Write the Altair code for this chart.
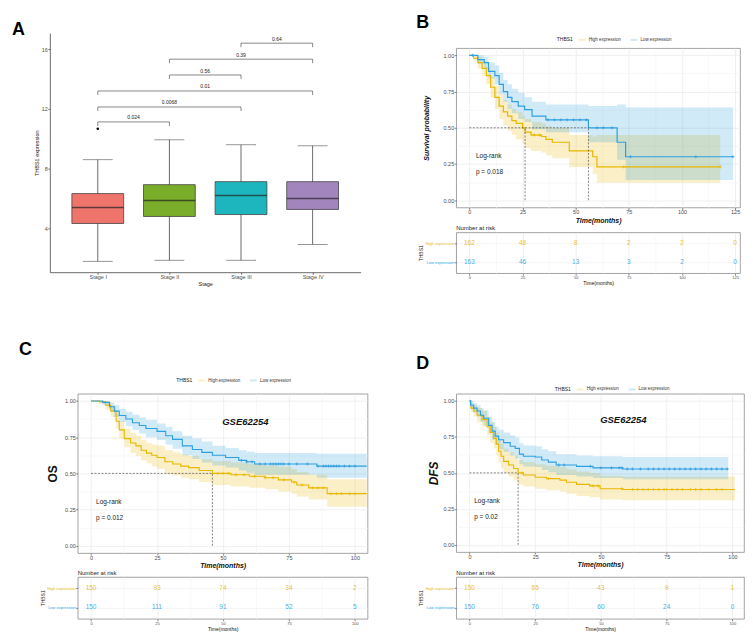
import json
import pandas as pd
import altair as alt

FONT = "Liberation Sans"
YEL = "#E7B800"
BLU = "#2E9FDF"
GROUPS = ["High expression", "Low expression"]
LAB = "#4D4D4D"
FRAME = "#8C8C8C"

# ---------------- Panel A : box plot ----------------
stages = ["Stage I", "Stage II", "Stage III", "Stage IV"]
stage_pos = [1, 2, 3, 4]
box_low = [1.8, 1.87, 1.87, 2.93]
box_q1 = [4.33, 4.8, 4.93, 5.27]
box_med = [5.4, 5.87, 6.2, 6.0]
box_q3 = [6.33, 6.93, 7.13, 7.13]
box_high = [8.6, 9.93, 9.6, 9.53]
box_colors = ["#EE746C", "#7AAD2A", "#1DB6BE", "#A385BE"]
outlier_pos = [1]
outlier_val = [10.67]
cmp_start = [1, 1, 1, 2, 2, 3]
cmp_end = [2, 3, 4, 3, 4, 4]
cmp_y = [11.13, 12.13, 13.2, 14.27, 15.33, 16.4]
cmp_p = ["0.024", "0.0068", "0.01", "0.56", "0.39", "0.64"]

# ---------------- Panel B : KM (TCGA) ----------------
b_high_t = [0, 2, 4, 6, 8, 10, 12, 14, 16, 18, 20, 22, 25, 26.2, 29, 34, 36, 39, 47, 58, 60, 118]
b_high_s = [1.0, 0.98, 0.95, 0.91, 0.86, 0.78, 0.71, 0.65, 0.61, 0.58, 0.55, 0.53, 0.50, 0.47, 0.45, 0.44, 0.42, 0.40, 0.34, 0.30, 0.23, 0.23]
b_high_lo = [1.0, 0.96, 0.91, 0.86, 0.80, 0.71, 0.63, 0.56, 0.52, 0.48, 0.45, 0.42, 0.39, 0.36, 0.34, 0.33, 0.31, 0.29, 0.23, 0.18, 0.12, 0.12]
b_high_hi = [1.0, 1.0, 0.99, 0.96, 0.92, 0.85, 0.79, 0.73, 0.69, 0.66, 0.63, 0.61, 0.58, 0.56, 0.54, 0.53, 0.51, 0.50, 0.45, 0.44, 0.45, 0.45]
b_low_t = [0, 4, 7, 9, 12, 14, 16, 18, 20, 23, 26, 29.5, 36, 56, 69.5, 73.5, 124]
b_low_s = [1.0, 0.97, 0.95, 0.89, 0.86, 0.80, 0.75, 0.71, 0.68, 0.65, 0.625, 0.58, 0.555, 0.50, 0.40, 0.30, 0.30]
b_low_lo = [1.0, 0.94, 0.91, 0.84, 0.80, 0.73, 0.68, 0.63, 0.60, 0.56, 0.54, 0.49, 0.47, 0.40, 0.28, 0.14, 0.14]
b_low_hi = [1.0, 1.0, 0.99, 0.95, 0.93, 0.88, 0.83, 0.80, 0.77, 0.74, 0.71, 0.68, 0.66, 0.65, 0.66, 0.64, 0.64]
b_cens_high = [30.5, 33, 72.6, 118]
b_cens_low = [1.5, 37, 40, 43, 46, 49, 52, 55, 60, 63, 67, 75.8, 106.5, 124]
b_med = [26.2, 56.0]
b_p = "p = 0.018"
b_risk_t = [0, 25, 50, 75, 100, 125]
b_risk_high = [162, 48, 8, 2, 2, 0]
b_risk_low = [163, 46, 13, 3, 2, 0]

# ---------------- Panel C : OS GSE62254 ----------------
c_high_t = [0, 3, 5.5, 7.5, 9.5, 10.7, 12.6, 15, 17, 19, 21, 23, 25, 28, 31, 34, 37, 41, 46, 53, 60, 66, 71, 76, 78, 82.5, 89.5, 104.5]
c_high_s = [1.0, 0.995, 0.97, 0.93, 0.86, 0.80, 0.74, 0.71, 0.69, 0.66, 0.64, 0.625, 0.61, 0.58, 0.565, 0.55, 0.54, 0.52, 0.50, 0.49, 0.48, 0.47, 0.455, 0.44, 0.42, 0.40, 0.36, 0.36]
c_high_lo = [1.0, 0.98, 0.94, 0.89, 0.81, 0.74, 0.68, 0.64, 0.62, 0.59, 0.57, 0.55, 0.53, 0.50, 0.485, 0.47, 0.46, 0.44, 0.42, 0.41, 0.40, 0.39, 0.375, 0.36, 0.34, 0.32, 0.27, 0.27]
c_high_hi = [1.0, 1.0, 0.995, 0.97, 0.91, 0.86, 0.81, 0.78, 0.76, 0.73, 0.71, 0.70, 0.69, 0.66, 0.645, 0.63, 0.62, 0.60, 0.585, 0.575, 0.565, 0.555, 0.545, 0.53, 0.51, 0.49, 0.46, 0.46]
c_low_t = [0, 4.4, 7, 8.8, 10.7, 13.2, 15.7, 18.3, 20.8, 25, 28.3, 30.9, 34.6, 38.4, 42, 46, 51, 56, 59, 62, 85.6, 104.5]
c_low_s = [1.0, 0.99, 0.96, 0.93, 0.90, 0.875, 0.85, 0.83, 0.81, 0.79, 0.76, 0.735, 0.69, 0.665, 0.645, 0.625, 0.61, 0.59, 0.58, 0.565, 0.55, 0.55]
c_low_lo = [1.0, 0.97, 0.93, 0.89, 0.855, 0.825, 0.80, 0.775, 0.75, 0.73, 0.70, 0.67, 0.625, 0.60, 0.575, 0.555, 0.54, 0.52, 0.505, 0.49, 0.47, 0.47]
c_low_hi = [1.0, 1.0, 0.99, 0.97, 0.945, 0.925, 0.905, 0.885, 0.87, 0.845, 0.82, 0.79, 0.76, 0.74, 0.72, 0.69, 0.675, 0.66, 0.65, 0.64, 0.635, 0.635]
c_cens_high = [48, 50, 52, 55, 58, 62, 66, 69, 73, 77, 80, 84, 86, 88, 91, 93, 95, 98, 100]
c_cens_low = [57, 59, 61, 64, 66, 68, 69, 70, 71, 72, 73, 75, 78, 82, 86, 88, 89, 90, 91, 92, 93, 94, 96, 98, 100]
c_med = [46.0]
c_p = "p = 0.012"
c_risk_t = [0, 25, 50, 75, 100]
c_risk_high = [150, 93, 74, 34, 2]
c_risk_low = [150, 111, 91, 52, 5]

# ---------------- Panel D : DFS GSE62254 ----------------
d_high_t = [0, 0.6, 1.6, 2.9, 4.8, 6.7, 7.9, 9.2, 10.2, 11.1, 12, 13, 14.9, 16.8, 18.5, 20.5, 25, 29.3, 34.4, 36.9, 40.7, 45.7, 49.7, 58.3, 100.9]
d_high_s = [1.0, 0.95, 0.93, 0.90, 0.87, 0.82, 0.78, 0.74, 0.70, 0.65, 0.615, 0.58, 0.555, 0.53, 0.50, 0.485, 0.47, 0.46, 0.45, 0.435, 0.42, 0.41, 0.39, 0.385, 0.385]
d_high_lo = [1.0, 0.92, 0.89, 0.85, 0.82, 0.76, 0.71, 0.67, 0.62, 0.57, 0.535, 0.50, 0.475, 0.45, 0.42, 0.405, 0.39, 0.38, 0.37, 0.355, 0.34, 0.33, 0.315, 0.31, 0.31]
d_high_hi = [1.0, 0.985, 0.97, 0.95, 0.93, 0.89, 0.85, 0.82, 0.78, 0.74, 0.70, 0.67, 0.645, 0.62, 0.59, 0.575, 0.56, 0.55, 0.54, 0.525, 0.51, 0.50, 0.48, 0.475, 0.47]
d_low_t = [0, 0.4, 1.6, 2.9, 4.2, 5.4, 7.3, 8.6, 9.8, 11.1, 13, 15.5, 17.4, 19, 20.5, 25, 27.5, 30, 33, 40.7, 47, 58.3, 98.4]
d_low_s = [1.0, 0.97, 0.95, 0.93, 0.90, 0.88, 0.83, 0.79, 0.755, 0.73, 0.71, 0.685, 0.67, 0.63, 0.615, 0.61, 0.59, 0.575, 0.555, 0.545, 0.535, 0.527, 0.527]
d_low_lo = [1.0, 0.94, 0.92, 0.89, 0.855, 0.83, 0.775, 0.73, 0.695, 0.665, 0.645, 0.62, 0.60, 0.56, 0.545, 0.54, 0.52, 0.505, 0.485, 0.475, 0.465, 0.455, 0.455]
d_low_hi = [1.0, 1.0, 0.985, 0.97, 0.95, 0.935, 0.89, 0.855, 0.82, 0.80, 0.78, 0.76, 0.745, 0.705, 0.69, 0.685, 0.665, 0.65, 0.63, 0.62, 0.615, 0.61, 0.61]
d_cens_high = [20, 30, 47, 49, 58, 62, 64, 66, 68, 70, 72, 74, 75, 77, 79, 81, 84, 86, 88, 91, 94, 96]
d_cens_low = [34, 36, 46, 50, 54, 57, 58, 60, 62, 65, 68, 70, 72, 74, 76, 78, 80, 82, 84, 86, 88, 90, 92, 94, 96, 98]
d_med = [18.5]
d_p = "p = 0.02"
d_risk_t = [0, 25, 50, 75, 100]
d_risk_high = [150, 65, 43, 9, 1]
d_risk_low = [150, 76, 60, 24, 0]


def step_at(ts, ss, x):
    v = ss[0]
    for t, s in zip(ts, ss):
        if t <= x:
            v = s
    return v


GCOL = alt.Scale(domain=GROUPS, range=[YEL, BLU])
CROSS = "M -1 0 L 1 0 M 0 -1 L 0 1"


def minor_vals(step, dom):
    vals = []
    v = 0.0
    while v <= dom[1]:
        vals.append(v)
        v += step / 2
    return vals


def xaxis_km(step, dom, title, tsize, tweight, tstyle, lsize):
    test = f"datum.value % {step} !== 0"
    return alt.Axis(
        values=minor_vals(step, dom),
        labelExpr=f"datum.value % {step} === 0 ? format(datum.value, 'd') : ''",
        title=title, titleFontSize=tsize, titleFontWeight=tweight, titleFontStyle=tstyle,
        titleColor="#111", titlePadding=1, labelFontSize=lsize, labelColor=LAB,
        labelPadding=0.5, tickSize=2, tickColor="#333", tickWidth=0.6, domain=False,
        grid=True, gridWidth=0.6,
        gridColor={"condition": {"test": test, "value": "#F4F4F4"}, "value": "#E6E6E6"},
        tickOpacity={"condition": {"test": test, "value": 0}, "value": 1},
    )


def km_panel(w, h, xdom, xstep, curves, cens, meds, p_text, lr_x,
             ytitle, ysize, ystyle, ypad, legx, legy, gse=None, lw=1.1):
    rows = []
    for g, (t, s, lo, hi) in zip(GROUPS, curves):
        for i in range(len(t)):
            rows.append({"group": g, "t": t[i], "s": s[i], "lo": lo[i], "hi": hi[i]})
    df = pd.DataFrame(rows)
    crows = []
    for g, (t, s, lo, hi), ct in zip(GROUPS, curves, cens):
        for c in ct:
            crows.append({"group": g, "t": c, "s": step_at(t, s, c)})
    cdf = pd.DataFrame(crows)

    xsc = alt.Scale(domain=xdom, nice=False, zero=False)
    ysc = alt.Scale(domain=[-0.05, 1.05], nice=False, zero=False)
    xax = xaxis_km(xstep, xdom, "Time(months)", 7, "bold", "italic", 5.5)
    ytest = "(datum.value * 4) % 1 !== 0"
    yax = alt.Axis(
        values=[i * 0.125 for i in range(9)],
        labelExpr="(datum.value * 4) % 1 === 0 ? format(datum.value, '.2f') : ''",
        title=ytitle, titleFontSize=ysize, titleFontWeight="bold", titleFontStyle=ystyle,
        titleColor="#111", titlePadding=ypad, labelFontSize=5.5, labelColor=LAB,
        labelPadding=0.5, tickSize=2, tickColor="#333", tickWidth=0.6, domain=False,
        grid=True, gridWidth=0.6,
        gridColor={"condition": {"test": ytest, "value": "#F4F4F4"}, "value": "#E6E6E6"},
        tickOpacity={"condition": {"test": ytest, "value": 0}, "value": 1},
    )

    def X(f):
        return alt.X(f, scale=xsc, axis=xax)

    def Y(f):
        return alt.Y(f, scale=ysc, axis=yax)

    leg = alt.Legend(
        orient="none", legendX=legx, legendY=legy, direction="horizontal",
        title="THBS1", titleOrient="left", titleFontSize=5, titleFontWeight="normal",
        titleColor="#222", titlePadding=4, labelFontSize=4.5, labelColor="#333",
        symbolType="stroke", symbolStrokeWidth=2, symbolSize=45, columnPadding=5,
        labelOffset=2)
    col = alt.Color("group:N", scale=GCOL, legend=leg)

    band = alt.Chart(df).mark_area(interpolate="step-after", opacity=0.22).encode(
        x=X("t:Q"), y=Y("lo:Q"), y2="hi:Q", color=col)
    line = alt.Chart(df).mark_line(interpolate="step-after", strokeWidth=lw).encode(
        x=X("t:Q"), y=Y("s:Q"), color=col)
    cpts = alt.Chart(cdf).mark_point(shape=CROSS, filled=False, size=10, strokeWidth=0.7,
                                     opacity=1).encode(x=X("t:Q"), y=Y("s:Q"), color=col)
    med_h = alt.Chart(pd.DataFrame({"t": [0.0], "t2": [max(meds)], "s": [0.5]})).mark_rule(
        color="#333", strokeDash=[2, 1.5], strokeWidth=0.6).encode(
        x=X("t:Q"), x2="t2:Q", y=Y("s:Q"))
    med_v = alt.Chart(pd.DataFrame({"t": meds, "s": [0.0] * len(meds),
                                    "s2": [0.5] * len(meds)})).mark_rule(
        color="#333", strokeDash=[2, 1.5], strokeWidth=0.6).encode(
        x=X("t:Q"), y=Y("s:Q"), y2="s2:Q")
    lr = alt.Chart(pd.DataFrame({"t": [lr_x, lr_x], "s": [0.305, 0.195],
                                 "label": ["Log-rank", p_text]})).mark_text(
        align="left", fontSize=6.5, color="#222").encode(
        x=X("t:Q"), y=Y("s:Q"), text="label:N")
    layers = [band, line, cpts, med_h, med_v, lr]
    if gse is not None:
        layers.append(alt.Chart(pd.DataFrame({"t": [gse[0]], "s": [gse[1]],
                                              "label": [gse[2]]})).mark_text(
            fontSize=9.5, fontWeight="bold", fontStyle="italic", color="#111").encode(
            x=X("t:Q"), y=Y("s:Q"), text="label:N"))
    return alt.layer(*layers).properties(
        width=w, height=h, view=alt.ViewBackground(stroke=FRAME, strokeWidth=0.8))


def risk_panel(w, h, xdom, xstep, times, nh, nl, fs=6.5):
    rows = []
    for g, ns in zip(GROUPS, [nh, nl]):
        for t, n in zip(times, ns):
            rows.append({"t": t, "group": g, "n": str(n)})
    df = pd.DataFrame(rows)
    xsc = alt.Scale(domain=xdom, nice=False, zero=False)
    xax = xaxis_km(xstep, xdom, "Time(months)", 5, "normal", "normal", 4)
    yax = alt.Axis(title="THBS1", titleFontSize=5, titleFontWeight="normal", titleColor="#222",
                   titlePadding=1.5, labelFontSize=4, labelPadding=0.5, tickSize=2,
                   tickColor="#333", tickWidth=0.6, domain=False, grid=True,
                   gridColor="#EDEDED", gridWidth=0.6,
                   labelColor={"condition": {"test": f"datum.value === '{GROUPS[0]}'",
                                             "value": YEL}, "value": BLU})
    return alt.Chart(df).mark_text(fontSize=fs, opacity=0.85).encode(
        x=alt.X("t:Q", scale=xsc, axis=xax),
        y=alt.Y("group:N", scale=alt.Scale(type="point", domain=GROUPS, padding=0.6), axis=yax),
        text="n:N",
        color=alt.Color("group:N", scale=GCOL, legend=None),
    ).properties(
        width=w, height=h,
        title=alt.TitleParams("Number at risk", anchor="start", frame="group", orient="top",
                              fontSize=6, fontWeight="normal", color="#222",
                              baseline="alphabetic", offset=0, dy=4),
        view=alt.ViewBackground(stroke=FRAME, strokeWidth=0.8))


# ---------------- Panel A chart ----------------
A_W, A_H = 312, 240        # drawn plot size
A_FW, A_FH = 28, 15        # footprint used by the grid layout
dfA = pd.DataFrame({"pos": stage_pos, "stage": stages, "low": box_low, "q1": box_q1,
                    "med": box_med, "q3": box_q3, "high": box_high})
xA = alt.Scale(domain=[0.4, 4.6], range=[0, A_W], nice=False, zero=False)
yA = alt.Scale(domain=[1.07, 17.07], range=[A_H, 0], nice=False, zero=False)
axA_x = alt.Axis(values=stage_pos, labelExpr=json.dumps(stages) + "[datum.value - 1]",
                 title="Stage", titleFontSize=5.5, titleFontWeight="normal", titleColor="#222",
                 titlePadding=1, labelFontSize=5.5, labelColor=LAB, labelPadding=0.5,
                 tickSize=2, tickColor="#333", tickWidth=0.7, domainColor="#444",
                 domainWidth=0.8, grid=False, offset=A_H - A_FH)
axA_y = alt.Axis(values=[4, 8, 12, 16], title="THBS1 expression", titleFontSize=5.5,
                 titleFontWeight="normal", titleColor="#222", titlePadding=2,
                 labelFontSize=5.5, labelColor=LAB, labelPadding=0.5, tickSize=2,
                 tickColor="#333", tickWidth=0.7, domainColor="#444", domainWidth=0.8,
                 grid=False)


def XA(f):
    return alt.X(f, scale=xA, axis=axA_x)


def YA(f):
    return alt.Y(f, scale=yA, axis=axA_y)


baseA = alt.Chart(dfA)
whisk = baseA.mark_rule(color="#444", strokeWidth=0.8).encode(x=XA("pos:Q"), y=YA("low:Q"), y2="high:Q")
cap_lo = baseA.mark_tick(orient="horizontal", size=30, thickness=0.8, color="#444").encode(x=XA("pos:Q"), y=YA("low:Q"))
cap_hi = baseA.mark_tick(orient="horizontal", size=30, thickness=0.8, color="#444").encode(x=XA("pos:Q"), y=YA("high:Q"))
boxes = baseA.mark_bar(size=52, stroke="#444", strokeWidth=0.8).encode(
    x=XA("pos:Q"), y=YA("q1:Q"), y2="q3:Q",
    color=alt.Color("stage:N", scale=alt.Scale(domain=stages, range=box_colors), legend=None))
medians = baseA.mark_tick(orient="horizontal", size=52, thickness=1.6, color="#222").encode(
    x=XA("pos:Q"), y=YA("med:Q"))
outl = alt.Chart(pd.DataFrame({"pos": outlier_pos, "v": outlier_val})).mark_circle(
    size=7, color="black", opacity=1).encode(x=XA("pos:Q"), y=YA("v:Q"))
dfC = pd.DataFrame({"xs": cmp_start, "xe": cmp_end, "y": cmp_y, "p": cmp_p})
br_h = alt.Chart(dfC).mark_rule(color="#555", strokeWidth=0.7).encode(
    x=XA("xs:Q"), x2="xe:Q", y=YA("y:Q"))
br_l = alt.Chart(dfC).transform_calculate(yd="datum.y - 0.27").mark_rule(
    color="#555", strokeWidth=0.7).encode(x=XA("xs:Q"), y=YA("y:Q"), y2="yd:Q")
br_r = alt.Chart(dfC).transform_calculate(yd="datum.y - 0.27").mark_rule(
    color="#555", strokeWidth=0.7).encode(x=XA("xe:Q"), y=YA("y:Q"), y2="yd:Q")
br_t = alt.Chart(dfC).transform_calculate(xm="(datum.xs + datum.xe) / 2").mark_text(
    fontSize=5, color="#222", baseline="bottom", dy=-1.5).encode(
    x=XA("xm:Q"), y=YA("y:Q"), text="p:N")
chartA = alt.layer(whisk, cap_lo, cap_hi, boxes, medians, outl, br_h, br_l, br_r, br_t).properties(
    width=A_FW, height=A_FH)

# ---------------- KM panels ----------------
chartB = km_panel(285, 160, [-6.2, 127.3], 25,
                  [(b_high_t, b_high_s, b_high_lo, b_high_hi), (b_low_t, b_low_s, b_low_lo, b_low_hi)],
                  [b_cens_high, b_cens_low], b_med, b_p, 3.1,
                  "Survival probability", 7, "italic", 14, 101, -13, lw=1.2)
riskB = risk_panel(285, 41, [-6.2, 127.3], 25, b_risk_t, b_risk_high, b_risk_low)

chartC = km_panel(291, 160, [-5.05, 104.8], 25,
                  [(c_high_t, c_high_s, c_high_lo, c_high_hi), (c_low_t, c_low_s, c_low_lo, c_low_hi)],
                  [c_cens_high, c_cens_low], c_med, c_p, 1.9,
                  "OS", 12, "normal", 5, 99, -18, gse=(58.5, 0.855, "GSE62254"))
riskC = risk_panel(291, 42, [-5.05, 104.8], 25, c_risk_t, c_risk_high, c_risk_low)

chartD = km_panel(289, 159, [-5.05, 104.4], 25,
                  [(d_high_t, d_high_s, d_high_lo, d_high_hi), (d_low_t, d_low_s, d_low_lo, d_low_hi)],
                  [d_cens_high, d_cens_low], d_med, d_p, 1.8,
                  "DFS", 12, "italic", 3, 99, -9, gse=(58.5, 0.865, "GSE62254"))
riskD = risk_panel(289, 42, [-5.05, 104.4], 25, d_risk_t, d_risk_high, d_risk_low)

# ---------------- layout grid (5 columns x 9 rows, flush, spacers) ----------------
SP_DF = pd.DataFrame({"k": [0]})


def sp(w=1, h=1):
    return alt.Chart(SP_DF).mark_rule(strokeWidth=0, opacity=0).encode(
        x=alt.value(0), x2=alt.value(0), y=alt.value(0), y2=alt.value(0)
    ).properties(width=w, height=h)


def letter(txt, w, h, dx, dy):
    return sp(w, h).properties(title=alt.TitleParams(
        txt, anchor="start", frame="group", orient="top", fontSize=18, fontWeight="bold",
        color="black", baseline="alphabetic", offset=0, dx=dx, dy=dy))


items = [
    letter("A", 42, 24, 4, 43.5), sp(), sp(), letter("B", 89, 1, 49, 37), sp(),
    sp(), chartA, sp(), sp(), sp(),
    sp(), sp(), sp(), sp(), chartB,
    sp(1, 25), sp(), sp(), sp(), sp(),
    sp(), sp(), sp(), sp(), riskB,
    letter("C", 1, 121, 11, 100.5), sp(), sp(), letter("D", 1, 1, 49, 114.5), sp(),
    sp(), sp(), chartC, sp(), chartD,
    sp(1, 24), sp(), sp(), sp(), sp(),
    sp(), sp(), riskC, sp(), riskD,
]

chart = alt.concat(*items, columns=5, spacing=0, bounds="flush", align="each").resolve_scale(
    x="independent", y="independent", color="independent"
).resolve_legend(color="independent").properties(
    padding=0, background="white"
).configure(font=FONT).configure_view(stroke=None)

chart.save("out.html", embed_options={"renderer": "svg", "actions": False})
